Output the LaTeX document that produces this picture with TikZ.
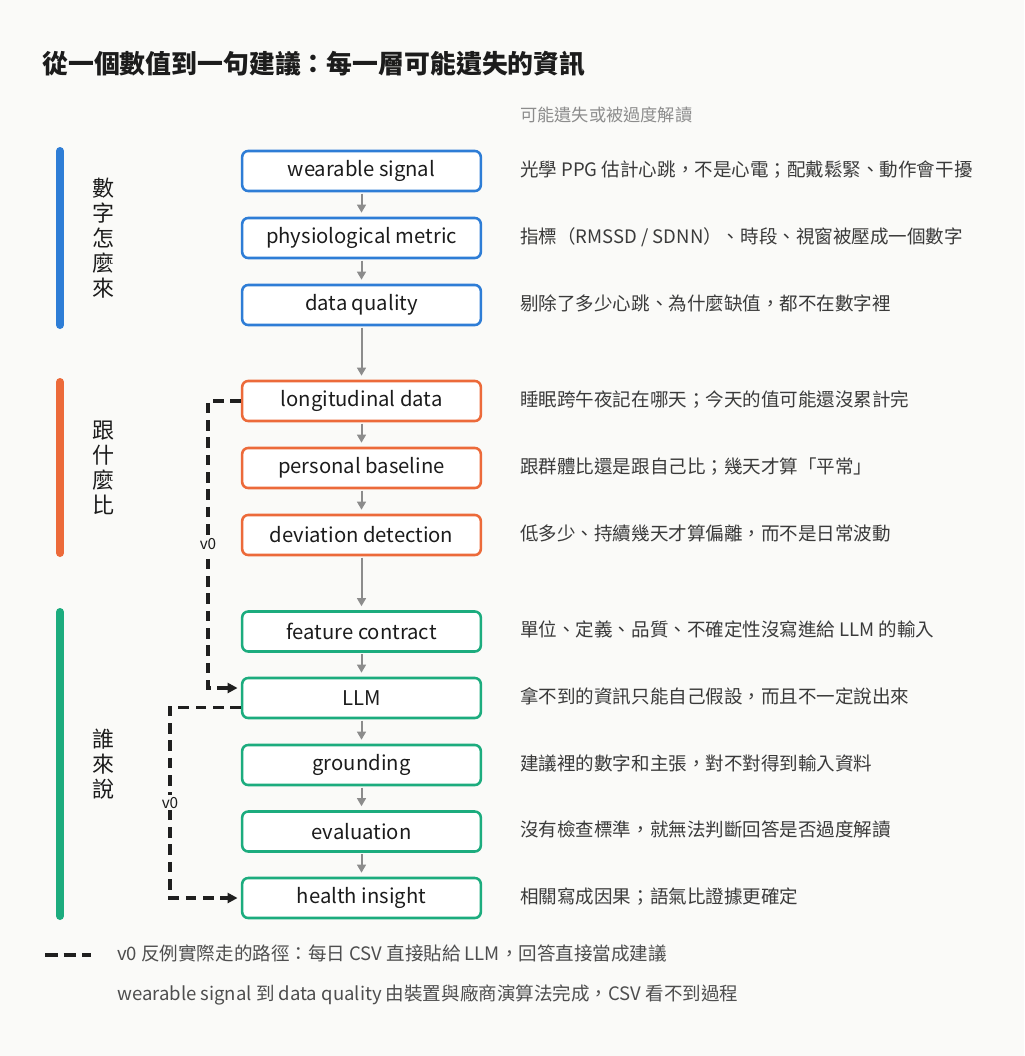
\documentclass[tikz,border=0pt]{standalone}
\usepackage{fontspec}
\setmainfont{Noto Sans CJK TC}
\usepackage{xcolor}
\usetikzlibrary{arrows.meta}

\definecolor{bgpage}{RGB}{250,250,248}
\definecolor{bluegrp}{RGB}{46,125,214}
\definecolor{orangegrp}{RGB}{236,106,58}
\definecolor{greengrp}{RGB}{28,172,126}
\definecolor{inkdark}{RGB}{28,28,28}
\definecolor{inknote}{RGB}{58,58,58}
\definecolor{inkgray}{RGB}{140,140,140}
\definecolor{arrowgray}{RGB}{140,140,140}

\begin{document}
\begin{tikzpicture}[x=0.75pt,y=-0.75pt,
    layer/.style={shape=rectangle, rounded corners=4.5pt, draw, line width=1.9pt, fill=white, minimum width=179pt, minimum height=30pt, inner sep=0pt, text=inkdark, font=\fontsize{15.2}{18}\selectfont},
    note/.style={anchor=west, inner sep=0pt, text=inknote, text height=0.83em, text depth=0.07em, font=\fontsize{13.9}{16}\selectfont},
    grp/.style={align=center, inner sep=0pt, text=inkdark, font=\fontsize{16.5}{18.75}\selectfont},
    bar/.style={line width=6pt, line cap=round},
    flow/.style={draw=arrowgray, line width=1.5pt, -{Triangle[length=6pt,width=6.5pt]}, shorten >=3pt, shorten <=1pt},
    vzero/.style={draw=black!88, line width=2.3pt, dash pattern=on 8pt off 5pt, -{Triangle[length=7.5pt,width=7.5pt]}, shorten >=2.5pt},
    vlab/.style={fill=bgpage, inner sep=1.5pt, text=inkdark, font=\fontsize{11.5}{13}\selectfont}]
    \useasboundingbox (0,0) rectangle (1024,1056);
    \fill[bgpage] (0,0) rectangle (1024,1056);

    \node[anchor=west, inner sep=0pt, text=inkdark, text height=0.83em, text depth=0.07em, font=\fontsize{19.4}{22}\selectfont\bfseries] (title) at (42,68.5) {從一個數值到一句建議：每一層可能遺失的資訊};
    \node[note, text=inkgray, font=\fontsize{12.9}{15}\selectfont] (colhead) at (520,116.5) {可能遺失或被過度解讀};

    % group bars and labels
    \draw[bar, bluegrp] (60,151) -- (60,325);
    \draw[bar, orangegrp] (60,382) -- (60,553);
    \draw[bar, greengrp] (60,612) -- (60,916);
    \node[grp] (grpsrc) at (103,238) {數\\字\\怎\\麼\\來};
    \node[grp] (grpcmp) at (103,467.5) {跟\\什\\麼\\比};
    \node[grp] (grpwho) at (103,764) {誰\\來\\說};

    % layers
    \node[layer, draw=bluegrp] (ws) at (361.5,171) {wearable signal};
    \node[layer, draw=bluegrp] (pm) at (361.5,238) {physiological metric};
    \node[layer, draw=bluegrp] (dq) at (361.5,305) {data quality};
    \node[layer, draw=orangegrp] (ld) at (361.5,401) {longitudinal data};
    \node[layer, draw=orangegrp] (pb) at (361.5,468) {personal baseline};
    \node[layer, draw=orangegrp] (dd) at (361.5,535) {deviation detection};
    \node[layer, draw=greengrp] (fc) at (361.5,631.5) {feature contract};
    \node[layer, draw=greengrp] (llm) at (361.5,698) {LLM};
    \node[layer, draw=greengrp] (gr) at (361.5,765) {grounding};
    \node[layer, draw=greengrp] (ev) at (361.5,831.5) {evaluation};
    \node[layer, draw=greengrp] (hi) at (361.5,898) {health insight};

    \draw[flow] (ws) -- (pm);
    \draw[flow] (pm) -- (dq);
    \draw[flow] (dq) -- (ld);
    \draw[flow] (ld) -- (pb);
    \draw[flow] (pb) -- (dd);
    \draw[flow] (dd) -- (fc);
    \draw[flow] (fc) -- (llm);
    \draw[flow] (llm) -- (gr);
    \draw[flow] (gr) -- (ev);
    \draw[flow] (ev) -- (hi);

    % what can get lost
    \node[note] (nws) at (520,171) {光學 PPG 估計心跳，不是心電；配戴鬆緊、動作會干擾};
    \node[note] (npm) at (520,238) {指標（RMSSD / SDNN）、時段、視窗被壓成一個數字};
    \node[note] (ndq) at (520,305) {剔除了多少心跳、為什麼缺值，都不在數字裡};
    \node[note] (nld) at (520,401) {睡眠跨午夜記在哪天；今天的值可能還沒累計完};
    \node[note] (npb) at (520,468) {跟群體比還是跟自己比；幾天才算「平常」};
    \node[note] (ndd) at (520,535) {低多少、持續幾天才算偏離，而不是日常波動};
    \node[note] (nfc) at (520,631.5) {單位、定義、品質、不確定性沒寫進給 LLM 的輸入};
    \node[note] (nllm) at (520,698) {拿不到的資訊只能自己假設，而且不一定說出來};
    \node[note] (ngr) at (520,765) {建議裡的數字和主張，對不對得到輸入資料};
    \node[note] (nev) at (520,831.5) {沒有檢查標準，就無法判斷回答是否過度解讀};
    \node[note] (nhi) at (520,898) {相關寫成因果；語氣比證據更確定};

    % v0 shortcut
    \coordinate (railA) at (208,0);
    \coordinate (railB) at (170,0);
    \coordinate (llmIn) at ([yshift=7.5pt]llm.west);
    \coordinate (llmOut) at ([yshift=-7pt]llm.west);
    \draw[vzero] (ld.west) -- (ld.west -| railA) -- node[vlab] (vzA) {v0} (llmIn -| railA) -- (llmIn);
    \draw[vzero] (llmOut) -- (llmOut -| railB) -- node[vlab] (vzB) {v0} (hi.west -| railB) -- (hi.west);

    % legend
    \coordinate (legA) at (45,955);
    \coordinate (legB) at (94,955);
    \draw[vzero, -, dash pattern=on 9.5pt off 4.5pt] (legA) -- (legB);
    \node[note, text=inknote!90] (leg1) at (117,955) {v0 反例實際走的路徑：每日 CSV 直接貼給 LLM，回答直接當成建議};
    \node[note, text=inknote!90] (leg2) at (117,995) {wearable signal 到 data quality 由裝置與廠商演算法完成，CSV 看不到過程};
\end{tikzpicture}
\end{document}
